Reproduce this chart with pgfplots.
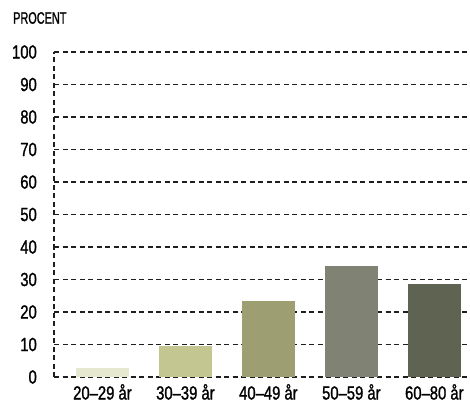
\documentclass[border=0pt]{standalone}
\usepackage{pgfplots}
\pgfplotsset{compat=1.18}
\usepackage{fontspec}
\setmainfont{Liberation Sans}[FakeStretch=0.78, FakeBold=1.2]
\newfontfamily\procfont{Liberation Sans}[FakeStretch=0.66, FakeBold=1.2]
\definecolor{c1}{HTML}{E6E9CF}
\definecolor{c2}{HTML}{C3C691}
\definecolor{c3}{HTML}{9D9F73}
\definecolor{c4}{HTML}{808273}
\definecolor{c5}{HTML}{5F6452}
\definecolor{gridc}{HTML}{1E1E1E}
\begin{document}
\begin{tikzpicture}
\useasboundingbox (-54pt,-35pt) rectangle (416pt,377pt);
\begin{axis}[
  scale only axis, width=416pt, height=325pt,
  xmin=-0.584, xmax=4.43, ymin=0, ymax=100,
  ytick={0,10,...,100},
  xtick={0,1,2,3,4},
  xticklabels={20–29 år,30–39 år,40–49 år,50–59 år,60–80 år},
  axis x line*=bottom, axis y line*=left,
  ymajorgrids,
  grid style={gridc, line width=1.3pt, dash pattern=on 5pt off 3.5pt},
  axis line style={gridc, line width=1.3pt, dash pattern=on 5pt off 3.5pt, -},
  major tick length=0pt,
  tick style={draw=none},
  tick label style={font=\fontsize{19}{21}\selectfont, inner sep=0pt},
  /pgf/number format/assume math mode=true,
  yticklabel style={anchor=east, xshift=-17pt},
  xticklabel style={anchor=north, yshift=-7pt},
  clip=false,
]
\addplot[ybar, bar width=53pt, bar shift=0pt, fill=c1, draw=none] coordinates {(0,2.8)};
\addplot[ybar, bar width=53pt, bar shift=0pt, fill=c2, draw=none] coordinates {(1,9.6)};
\addplot[ybar, bar width=53pt, bar shift=0pt, fill=c3, draw=none] coordinates {(2,23.5)};
\addplot[ybar, bar width=53pt, bar shift=0pt, fill=c4, draw=none] coordinates {(3,34.3)};
\addplot[ybar, bar width=53pt, bar shift=0pt, fill=c5, draw=none] coordinates {(4,28.5)};
\end{axis}
\node[anchor=west, inner sep=0pt, font=\procfont\fontsize{16.5}{18}\selectfont] at (-41pt,359pt) {PROCENT};
\end{tikzpicture}
\end{document}
